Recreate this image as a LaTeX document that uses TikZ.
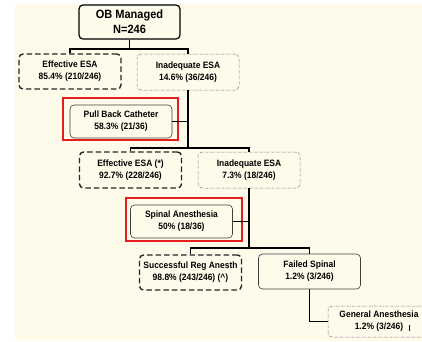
\documentclass[tikz,border=0pt]{standalone}
\usepackage{fontspec}
\setmainfont[FakeStretch=0.92]{Liberation Sans}
\definecolor{cream}{HTML}{FFFBEA}
\definecolor{boxred}{HTML}{E41E1E}
\tikzset{
  base/.style={rectangle, rounded corners=4pt, align=center, fill=cream,
    font=\fontsize{9.2}{12}\selectfont\bfseries, inner sep=0pt},
  obbox/.style={base, draw=black, line width=1.2pt, minimum width=101pt, minimum height=34pt,
    font=\fontsize{12}{15}\selectfont\bfseries},
  effbox/.style={base, draw=black!85, line width=1.4pt, dash pattern=on 5.5pt off 3pt,
    minimum width=102pt, minimum height=35pt},
  inadbox/.style={base, draw=black!55, line width=0.5pt,
    dash pattern=on 2.5pt off 1.2pt on 0.6pt off 1.2pt, minimum width=102pt, minimum height=36pt},
  solidbox/.style={base, draw=black!75, line width=0.6pt, minimum width=102pt, minimum height=33pt},
  redframe/.style={draw=boxred, line width=1.6pt},
  conn/.style={draw=black, line width=1.2pt},
}
\begin{document}
\begin{tikzpicture}[x=1pt,y=-1pt]
\useasboundingbox (0,0) rectangle (422,341);
\clip (0,0) rectangle (422,341);
\fill[cream] (15,4) rectangle (422,341);

\node[obbox] (ob) at (129.5,22) {OB Managed\\N=246};
\node[effbox] (eff1) at (70,71.5) {Effective ESA\\85.4\% (210/246)};
\node[inadbox] (inad1) at (188,72) {Inadequate ESA\\14.6\% (36/246)};

\draw[redframe] (63,98) rectangle (178,140);
\node[solidbox] (pull) at (121,121.5) {Pull Back Catheter\\58.3\% (21/36)};

\node[effbox, minimum height=36pt] (eff2) at (130.5,170) {Effective ESA (*)\\92.7\% (228/246)};
\node[inadbox] (inad2) at (249,170) {Inadequate ESA\\7.3\% (18/246)};

\draw[redframe] (126,198) rectangle (242,241);
\node[solidbox] (spin) at (181.5,221.5) {Spinal Anesthesia\\50\% (18/36)};

\node[effbox] (succ) at (190.5,272.5) {Successful Reg Anesth\\98.8\% (243/246) (\^{})};
\node[solidbox, minimum height=35pt] (fail) at (309.5,271.5) {Failed Spinal\\1.2\% (3/246)};

\node[inadbox, minimum height=31pt] (gen) at (379,321.5) {General Anesthesia\\1.2\% (3/246)};

% connectors
\coordinate (j1) at (129.5,49);
\coordinate (j2) at (188,148);
\coordinate (j3) at (249,248);
\draw[conn] (ob.south) -- (j1);
\draw[conn] (eff1.north) |- (j1) -| (inad1.north);
\draw[conn] (inad1.south) -- (j2);
\draw[conn] (pull.east) -- (pull.east -| j2);
\draw[conn] (eff2.north) |- (j2) -| (inad2.north);
\draw[conn] (inad2.south) -- (j3);
\draw[conn] (spin.east) -- (spin.east -| j3);
\draw[conn] (succ.north) |- (j3) -| (fail.north);
\draw[conn] (fail.south) |- (gen.west);

\coordinate (tickA) at (409,325);
\coordinate (tickB) at (409,330.5);
\draw[black, line width=0.6pt] (tickA) -- (tickB);
\end{tikzpicture}
\end{document}
